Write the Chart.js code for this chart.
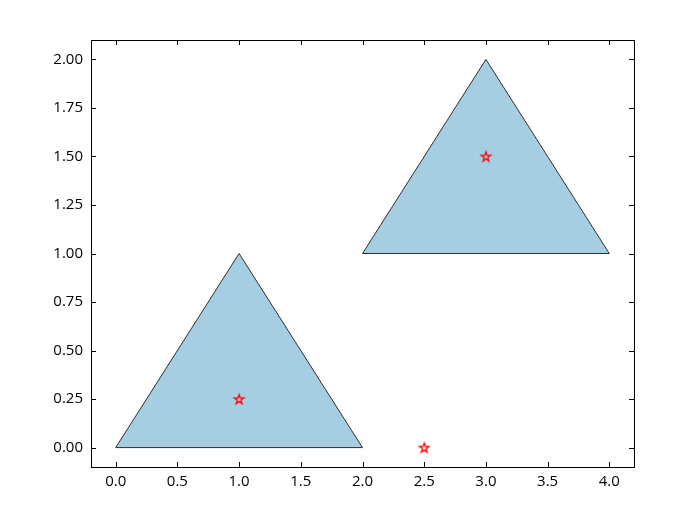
<!DOCTYPE html>
<html>
<head>
<meta charset="utf-8">
<script src="https://cdn.jsdelivr.net/npm/chart.js@4/dist/chart.umd.min.js"></script>
<style>
  body { margin: 0; background: #fff; }
  #fontProbe { font-family: 'Open Sans'; position: absolute; left: -9999px; }
</style>
</head>
<body>
<span id="fontProbe">0.123456789</span>
<canvas id="myChart" width="700" height="525"></canvas>
<script>
// triangle corners (closed by repeating the first one)
var triangleA = [{x: 0, y: 0}, {x: 2, y: 0}, {x: 1, y: 1}, {x: 0, y: 0}];
var triangleB = [{x: 2, y: 1}, {x: 4, y: 1}, {x: 3, y: 2}, {x: 2, y: 1}];
// red star markers
var starPoints = [{x: 1, y: 0.25}, {x: 3, y: 1.5}, {x: 2.5, y: 0}];

var xTicks = [0, 0.5, 1, 1.5, 2, 2.5, 3, 3.5, 4];
var yTicks = [0, 0.25, 0.5, 0.75, 1, 1.25, 1.5, 1.75, 2];

// star marker drawn on a small canvas
function makeStar() {
    var c = document.createElement('canvas');
    c.width = 14; c.height = 14;
    var g = c.getContext('2d');
    var R = 5, r = R * 0.382;
    g.beginPath();
    for (var i = 0; i < 10; i++) {
        var rad = (i % 2 === 0) ? R : r;
        var a = -Math.PI / 2 + i * Math.PI / 5;
        var px = 7 + rad * Math.cos(a), py = 7.5 + rad * Math.sin(a);
        if (i === 0) g.moveTo(px, py); else g.lineTo(px, py);
    }
    g.closePath();
    g.strokeStyle = 'red';
    g.lineWidth = 1.3;
    g.stroke();
    return c;
}

// frame + inward ticks on all four sides
var framePlugin = {
    id: 'frame',
    afterDraw: function(chart) {
        var ctx = chart.ctx, a = chart.chartArea;
        var xs = chart.scales.x, ys = chart.scales.y;
        ctx.save();
        ctx.strokeStyle = '#000';
        ctx.lineWidth = 1;
        ctx.beginPath();
        xTicks.forEach(function(v) {
            var px = Math.round(xs.getPixelForValue(v)) + 0.5;
            ctx.moveTo(px, a.bottom); ctx.lineTo(px, a.bottom - 5);
            ctx.moveTo(px, a.top); ctx.lineTo(px, a.top + 5);
        });
        yTicks.forEach(function(v) {
            var py = Math.round(ys.getPixelForValue(v)) + 0.5;
            ctx.moveTo(a.left, py); ctx.lineTo(a.left + 5, py);
            ctx.moveTo(a.right, py); ctx.lineTo(a.right - 5, py);
        });
        ctx.stroke();
        ctx.strokeRect(Math.round(a.left) + 0.5, Math.round(a.top) + 0.5,
            Math.round(a.right - a.left), Math.round(a.bottom - a.top));
        ctx.restore();
    }
};

var fillColor = 'rgba(166, 206, 227, 1)';

function drawChart() {
    var ctx = document.getElementById('myChart').getContext('2d');
    var myChart = new Chart(ctx, {
        type: 'scatter',
        data: {
            datasets: [{
                data: starPoints,
                pointStyle: makeStar(),
                showLine: false,
                order: 0
            }, {
                data: triangleA,
                showLine: true,
                fill: 'shape',
                backgroundColor: fillColor,
                borderColor: '#000',
                borderWidth: 0.8,
                pointRadius: 0,
                tension: 0,
                order: 1
            }, {
                data: triangleB,
                showLine: true,
                fill: 'shape',
                backgroundColor: fillColor,
                borderColor: '#000',
                borderWidth: 0.8,
                pointRadius: 0,
                tension: 0,
                order: 1
            }]
        },
        options: {
            responsive: false,
            animation: false,
            layout: { padding: { top: 40, right: 66, left: 0, bottom: 0 } },
            plugins: { legend: { display: false }, tooltip: { enabled: false } },
            scales: {
                x: {
                    type: 'linear',
                    min: -0.2,
                    max: 4.2,
                    grid: { display: false, drawTicks: false },
                    border: { display: false },
                    afterBuildTicks: function(s) { s.ticks = xTicks.map(function(v) { return {value: v}; }); },
                    afterFit: function(s) { s.height = 58; },
                    ticks: {
                        color: '#000',
                        padding: 6,
                        font: { family: 'Open Sans', size: 15 },
                        callback: function(v) { return v.toFixed(1); }
                    }
                },
                y: {
                    type: 'linear',
                    min: -0.1,
                    max: 2.1,
                    grid: { display: false, drawTicks: false },
                    border: { display: false },
                    afterBuildTicks: function(s) { s.ticks = yTicks.map(function(v) { return {value: v}; }); },
                    afterFit: function(s) { s.width = 91; },
                    ticks: {
                        color: '#000',
                        padding: 8,
                        font: { family: 'Open Sans', size: 15 },
                        callback: function(v) { return v.toFixed(2); }
                    }
                }
            }
        },
        plugins: [framePlugin]
    });
}

if (document.fonts && document.fonts.load) {
    document.fonts.load('15px "Open Sans"').then(drawChart, drawChart);
} else {
    drawChart();
}
</script>
</body>
</html>
